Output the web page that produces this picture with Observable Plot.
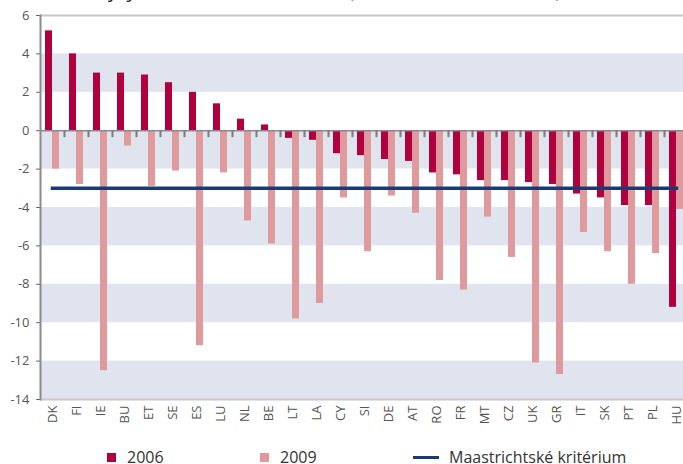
<!DOCTYPE html>
<html>
<head>
<meta charset="utf-8">
<script src="https://cdn.jsdelivr.net/npm/d3@7"></script>
<script src="https://cdn.jsdelivr.net/npm/@observablehq/plot@0.6"></script>
<style>
  html, body { margin: 0; padding: 0; background: #fff; overflow: hidden; }
  body { position: relative; width: 683px; height: 464px; font-family: "Open Sans", "Noto Sans", sans-serif; }
  #title { position: absolute; left: 12px; top: -24px; font-size: 20px; line-height: 27px; color: #222; white-space: nowrap; z-index: 2; }
  #chart { position: absolute; left: 0; top: 0; z-index: 1; }
  #legend { position: absolute; left: 0; top: 446px; width: 683px; height: 24px; font-size: 16px; color: #333; }
  .item { position: absolute; top: 0; display: flex; align-items: center; white-space: nowrap; }
  .sw { width: 9px; height: 9px; margin-right: 11px; }
  .ln { width: 26px; height: 3px; margin-right: 10px; }
</style>
</head>
<body>
<div id="title">Saldo veřejných financí v zemích EU (v % HDP, 2006 a 2009)</div>
<div id="chart"></div>
<div id="legend"></div>
<script>
const countries = ["DK","FI","IE","BU","ET","SE","ES","LU","NL","BE","LT","LA","CY","SI","DE","AT","RO","FR","MT","CZ","UK","GR","IT","SK","PT","PL","HU"];
const values2006 = [5.2, 4.0, 3.0, 3.0, 2.9, 2.5, 2.0, 1.4, 0.6, 0.3, -0.4, -0.5, -1.2, -1.3, -1.5, -1.6, -2.2, -2.3, -2.6, -2.6, -2.7, -2.8, -3.3, -3.5, -3.9, -3.9, -9.2];
const values2009 = [-2.0, -2.8, -12.5, -0.8, -2.9, -2.1, -11.2, -2.2, -4.7, -5.9, -9.8, -9.0, -3.5, -6.3, -3.4, -4.3, -7.8, -8.3, -4.5, -6.6, -12.1, -12.7, -5.3, -6.3, -8.0, -6.4, -4.1];
const maastricht = -3;
const yTicks = [6, 4, 2, 0, -2, -4, -6, -8, -10, -12, -14];
const shadedBands = [[2, 4], [-2, 0], [-6, -4], [-10, -8], [-14, -12]];
const seriesNames = ["2006", "2009"];
const colors = { "2006": "#b0003e", "2009": "#de9a9c", line: "#1c3a72" };

const rows2006 = countries.map((c, i) => ({ country: c, value: values2006[i] }));
const rows2009 = countries.map((c, i) => ({ country: c, value: values2009[i] }));
const lineRows = countries.map(c => ({ country: c, value: maastricht }));

const chart = Plot.plot({
  width: 683,
  height: 440,
  marginTop: 15,
  marginBottom: 41,
  marginLeft: 40,
  marginRight: 0,
  style: { fontFamily: "'Open Sans', 'Noto Sans', sans-serif", background: "transparent", color: "#555" },
  x: { domain: countries, range: [40, 688], padding: 0, label: null },
  y: { domain: [-14, 6], label: null },
  marks: [
    Plot.rectY(shadedBands, { y1: d => d[0], y2: d => d[1], fill: "#dfe4ee" }),
    Plot.ruleY([yTicks[0], yTicks[yTicks.length - 1]], { stroke: "#c8c8c8", strokeWidth: 2 }),
    Plot.barY(rows2006, { x: "country", y: "value", fill: colors["2006"], insetLeft: 5, insetRight: 12 }),
    Plot.barY(rows2009, { x: "country", y: "value", fill: colors["2009"], insetLeft: 12, insetRight: 5 }),
    Plot.ruleY([0], { stroke: "#8a8a8a", strokeWidth: 1.5 }),
    Plot.ruleX(countries, { x: d => d, dx: 12, y1: 0, y2: -0.36, stroke: "#7a7a7a", strokeWidth: 2 }),
    Plot.lineY(lineRows, { x: "country", y: "value", stroke: colors.line, strokeWidth: 3.5, strokeLinecap: "square" }),
    Plot.axisY(yTicks, { tickSize: 4, tickPadding: 7, fontSize: 13, stroke: "#666", fill: "#555", label: null, tickFormat: d => String(d).replace("−", "-") }),
    Plot.axisX({ tickSize: 0, tickRotate: -90, tickPadding: 6, fontSize: 13, fill: "#555", label: null }),
    Plot.frame({ anchor: "left", stroke: "#8a8a8a", strokeWidth: 2 })
  ]
});
document.getElementById("chart").appendChild(chart);

const legend = document.getElementById("legend");
const items = [
  { left: 107, kind: "sw", color: colors["2006"], text: seriesNames[0] },
  { left: 260, kind: "sw", color: colors["2009"], text: seriesNames[1] },
  { left: 413, kind: "ln", color: colors.line, text: "Maastrichtské kritérium" }
];
for (const it of items) {
  const d = document.createElement("div");
  d.className = "item";
  d.style.left = it.left + "px";
  const s = document.createElement("span");
  s.className = it.kind;
  s.style.background = it.color;
  d.appendChild(s);
  const t = document.createElement("span");
  t.textContent = it.text;
  d.appendChild(t);
  legend.appendChild(d);
}
</script>
</body>
</html>
